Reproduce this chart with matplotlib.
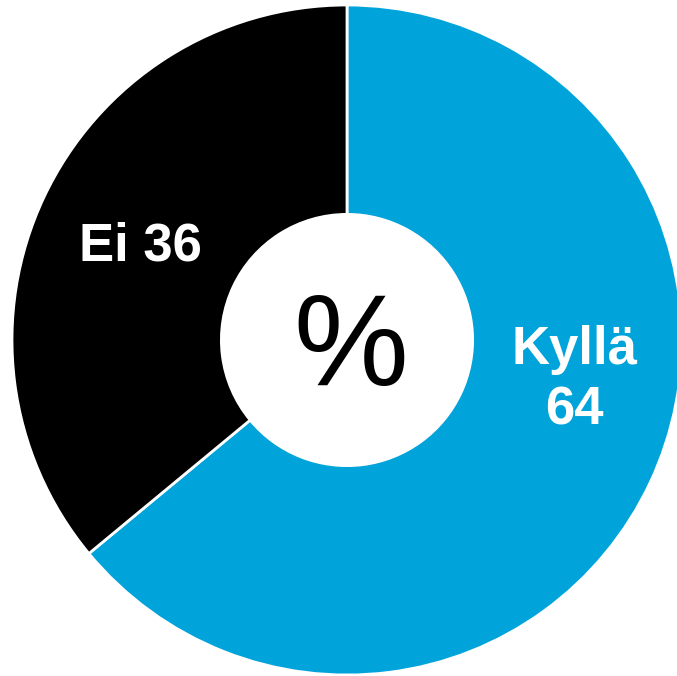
import matplotlib
matplotlib.use("Agg")
import matplotlib.pyplot as plt

labels = ["Kyllä\n64", "Ei 36"]
values = [64, 36]
colors = ["#00A3DA", "#000000"]

fig = plt.figure(figsize=(6.77, 6.76), dpi=100)
ax = fig.add_axes([0, 0, 1, 1])
ax.pie(values, colors=colors, startangle=90, counterclock=False, radius=1.0,
       wedgeprops=dict(width=0.625, edgecolor="white", linewidth=2))
ax.set_xlim(-347/335, 330/335)
ax.set_ylim(-336/335, 340/335)
ax.set_aspect("auto")
ax.axis("off")

ax.text(0.678, -0.12, labels[0], ha="center", va="center", color="white",
        fontsize=38, fontweight="bold", family="Liberation Sans", linespacing=1.27)
ax.text(-0.618, 0.28, labels[1], ha="center", va="center", color="white",
        fontsize=38, fontweight="bold", family="Liberation Sans")
ax.text(0.01, -0.035, "%", ha="center", va="center", color="black",
        fontsize=93, family="Liberation Sans")

fig.savefig("out.png", dpi=100)
